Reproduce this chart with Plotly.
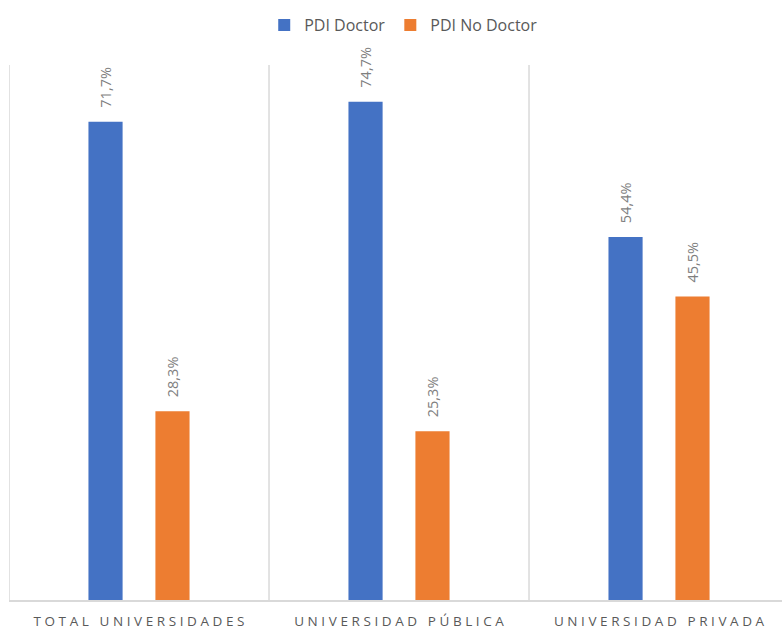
import plotly.graph_objects as go

categories = ["TOTAL UNIVERSIDADES", "UNIVERSIDAD PÚBLICA", "UNIVERSIDAD PRIVADA"]
doctor = [71.7, 74.7, 54.4]
no_doctor = [28.3, 25.3, 45.5]
series_names = ["PDI Doctor", "PDI No Doctor"]
colors = ["#4472C4", "#ED7D31"]

def spaced(s):
    return "\u2009\u200A".join(list(s))

def fmt(v):
    return f"{v:.1f}".replace(".", ",") + "%"

fig = go.Figure()
for name, vals, col in zip(series_names, [doctor, no_doctor], colors):
    fig.add_trace(go.Bar(x=categories, y=vals, name=name, marker_color=col,
                         marker_line_width=0))

annotations = []
for vals, shift in [(doctor, -33.5), (no_doctor, 33.5)]:
    for c, v in zip(categories, vals):
        annotations.append(dict(x=c, y=v, text=fmt(v), showarrow=False,
                                textangle=-90, xshift=shift, yshift=12,
                                yanchor="bottom",
                                font=dict(family="Open Sans", size=14.5, color="#7F7F7F")))

shapes = []
for xv in [-0.5, 0.5, 1.5]:
    shapes.append(dict(type="line", xref="x", yref="paper", x0=xv, x1=xv, y0=0, y1=1,
                       line=dict(color="#D9D9D9", width=1.5), layer="below"))

fig.update_layout(
    width=782, height=630,
    margin=dict(l=9, r=0, t=65, b=30, autoexpand=False),
    paper_bgcolor="white", plot_bgcolor="white",
    barmode="group", bargap=0.485, bargroupgap=0.49,
    font=dict(family="Open Sans", color="#595959"),
    legend=dict(orientation="h", x=0.51, xanchor="center", yref="container",
                y=0.96, yanchor="middle",
                font=dict(size=16, color="#595959")),
    annotations=annotations, shapes=shapes,
    xaxis=dict(range=[-0.5, 2.473], tickvals=categories,
               ticktext=[spaced(c) for c in categories],
               tickfont=dict(size=13.5, color="#595959"),
               showline=True, linecolor="#D9D9D9", linewidth=1.5, automargin=False,
               ticks="", ticklabelstandoff=8, showgrid=False),
    yaxis=dict(range=[0, 80.2], visible=False, showgrid=False, automargin=False),
    showlegend=True,
)

fig.write_html("out.html")
